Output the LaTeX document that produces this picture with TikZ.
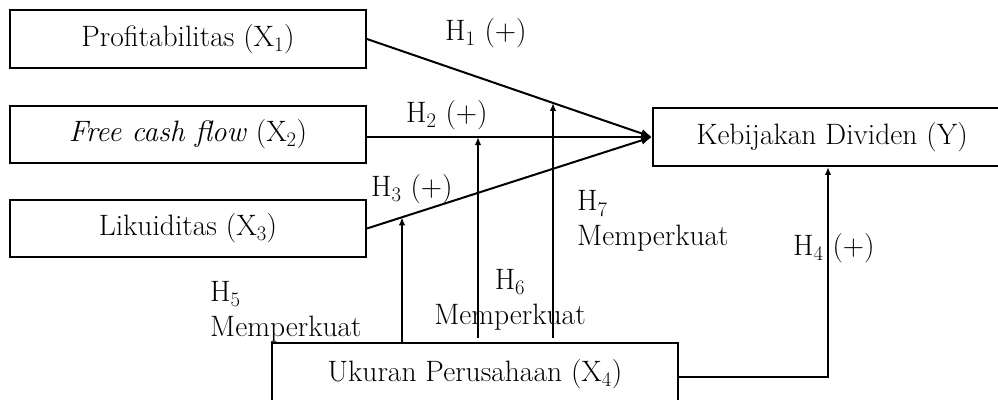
\documentclass[tikz,border=0pt]{standalone}
\usepackage{fontspec}
\usetikzlibrary{arrows.meta,calc}
\begin{document}
\begin{tikzpicture}[x=1pt,y=-1pt,
  box/.style={draw,line width=1.9pt,rectangle,inner sep=0pt},
  lbl/.style={inner sep=0pt,anchor=west},
  conn/.style={line width=2pt},
  bigtip/.style={-{Latex[length=11pt,width=9pt]}},
  smalltip/.style={-{Latex[length=8pt,width=6.5pt]}},
  every node/.style={font=\fontsize{29.5}{35}\selectfont}]
\useasboundingbox (0,0) rectangle (998,399);
\fill[white] (0,0) rectangle (998,399);
\begin{scope}
\clip (0,0) rectangle (998,399);
\node[box,minimum width=356pt,minimum height=58pt] (x1) at (188,39) {Profitabilitas (X\textsubscript{1})};
\node[box,minimum width=356pt,minimum height=57pt] (x2) at (188,134.5) {\textit{Free cash flow} (X\textsubscript{2})};
\node[box,minimum width=356pt,minimum height=57pt] (x3) at (188,228.5) {Likuiditas (X\textsubscript{3})};
\node[box,minimum width=358pt,minimum height=58pt] (y) at (832,137) {Kebijakan Dividen (Y)};
\node[box,minimum width=406pt,minimum height=62pt] (x4) at (475,374) {Ukuran Perusahaan (X\textsubscript{4})};
\end{scope}

\draw[conn,bigtip] (x1.east) -- (y.west);
\draw[conn,bigtip] (x2.east |- y.west) -- (y.west);
\draw[conn,bigtip] (x3.east) -- (y.west);

\coordinate (m5) at (intersection of x3.east--y.west and 402,0--402,399);
\coordinate (m6) at (478,137);
\coordinate (m7) at (intersection of x1.east--y.west and 553,0--553,399);
\coordinate (c4) at (828,377);

\draw[conn,smalltip] (x4.north -| m5) -- (m5);
\draw[conn,smalltip] ($(x4.north -| m6)+(0,-4)$) -- (m6);
\draw[conn,smalltip] ($(x4.north -| m7)+(0,-4)$) -- (m7);
\draw[conn,smalltip] (x4.east |- c4) -| (y.south -| c4);

\node[lbl] (h1) at (445,33) {H\textsubscript{1} (+)};
\node[lbl] (h2) at (406,115) {H\textsubscript{2} (+)};
\node[lbl] (h3) at (371,189) {H\textsubscript{3} (+)};
\node[lbl] (h4) at (793,248) {H\textsubscript{4} (+)};
\node[lbl,align=left] (h7) at (577,221) {H\textsubscript{7}\\Memperkuat};
\node[lbl,align=left] (h5) at (210,312) {H\textsubscript{5}\\Memperkuat};
\node[inner sep=0pt,align=center] (h6) at (510,300) {H\textsubscript{6}\\Memperkuat};
\end{tikzpicture}
\end{document}
